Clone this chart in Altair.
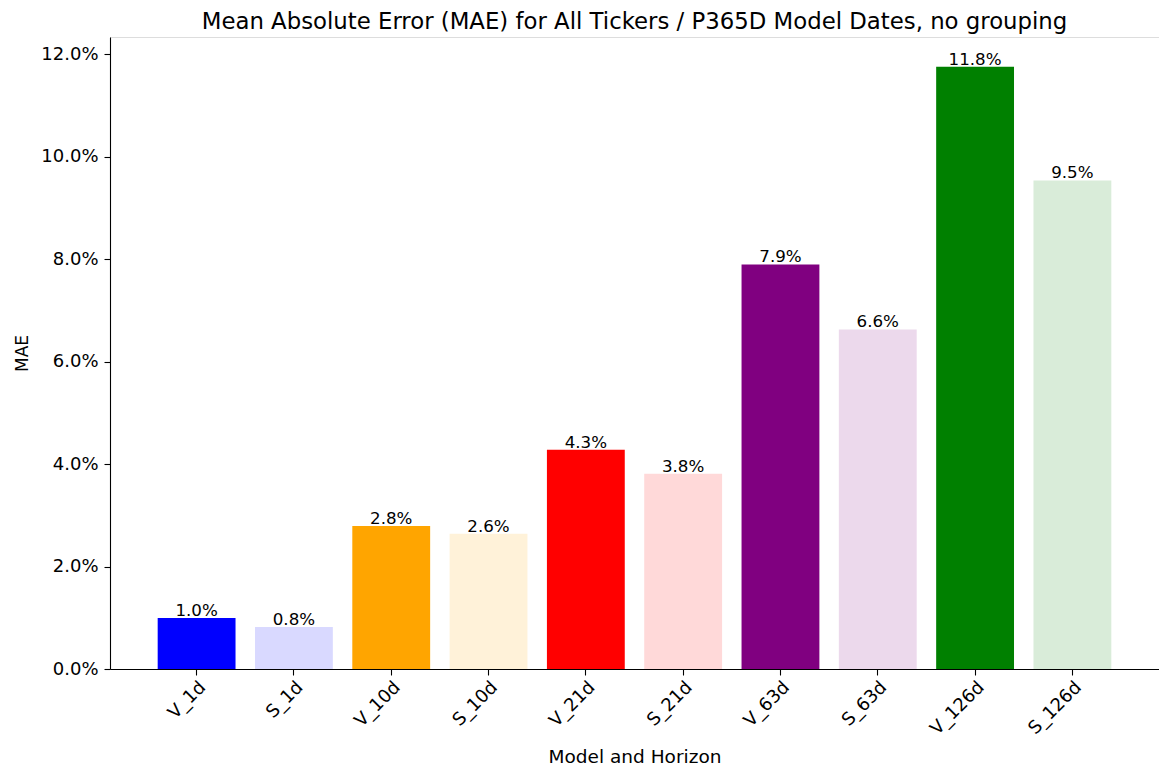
import altair as alt
import pandas as pd

labels = ["V_1d", "S_1d", "V_10d", "S_10d", "V_21d", "S_21d", "V_63d", "S_63d", "V_126d", "S_126d"]
mae = [0.00997, 0.0082, 0.0279, 0.0264, 0.0428, 0.0381, 0.0790, 0.0663, 0.1176, 0.0954]
colors = ["#0000ff", "#d9d9ff", "#ffa500", "#fff2d9", "#ff0000", "#ffd9d9",
          "#800080", "#ecd9ec", "#008000", "#d9ecd9"]
y_ticks = [0.0, 0.02, 0.04, 0.06, 0.08, 0.10, 0.12]

df = pd.DataFrame({"label": labels, "mae": mae, "color": colors})

FONT = "DejaVu Sans"
TICK_FS = 18

x = alt.X("label:N", sort=labels, title="Model and Horizon",
          scale=alt.Scale(paddingInner=0.2, paddingOuter=0.49),
          axis=alt.Axis(labelAngle=-45, labelAlign="right", labelBaseline="top",
                        labelFontSize=TICK_FS, labelFont=FONT, labelColor="black",
                        labelPadding=3, labelOffset=0,
                        titleFontSize=18.5, titleFont=FONT, titleColor="black",
                        titleFontWeight="normal", titlePadding=9,
                        tickColor="black", tickSize=6, tickWidth=1.1,
                        domainColor="black", domainWidth=1.1, grid=False))
y = alt.Y("mae:Q", title="MAE",
          scale=alt.Scale(domain=[0, 0.1234], nice=False, zero=True),
          axis=alt.Axis(values=y_ticks, format=".1%",
                        labelFontSize=TICK_FS, labelFont=FONT, labelColor="black",
                        labelPadding=6,
                        titleFontSize=17, titleFont=FONT, titleColor="black",
                        titleFontWeight="normal", titlePadding=9,
                        tickColor="black", tickSize=6, tickWidth=1.1,
                        domainColor="black", domainWidth=1.1, grid=False))

bars = alt.Chart(df).mark_bar().encode(
    x=x, y=y,
    color=alt.Color("color:N", scale=None),
)

text = alt.Chart(df).mark_text(baseline="alphabetic", dy=-2, fontSize=16.7, font=FONT,
                               color="black").encode(
    x=alt.X("label:N", sort=labels),
    y=alt.Y("mae:Q"),
    text=alt.Text("mae:Q", format=".1%"),
)

chart = alt.layer(bars, text).properties(
    width=1049, height=632,
    title=alt.Title("Mean Absolute Error (MAE) for All Tickers / P365D Model Dates, no grouping",
                    font=FONT, fontSize=22.8, fontWeight="normal", color="black",
                    anchor="middle", offset=3),
    autosize=alt.AutoSizeParams(type="none"),
    padding={"left": 102, "top": 29, "right": 0, "bottom": 98},
).configure_view(stroke="black", strokeWidth=1.1).configure(background="white")

chart.save("out.html", embed_options={"renderer": "svg", "actions": False})
